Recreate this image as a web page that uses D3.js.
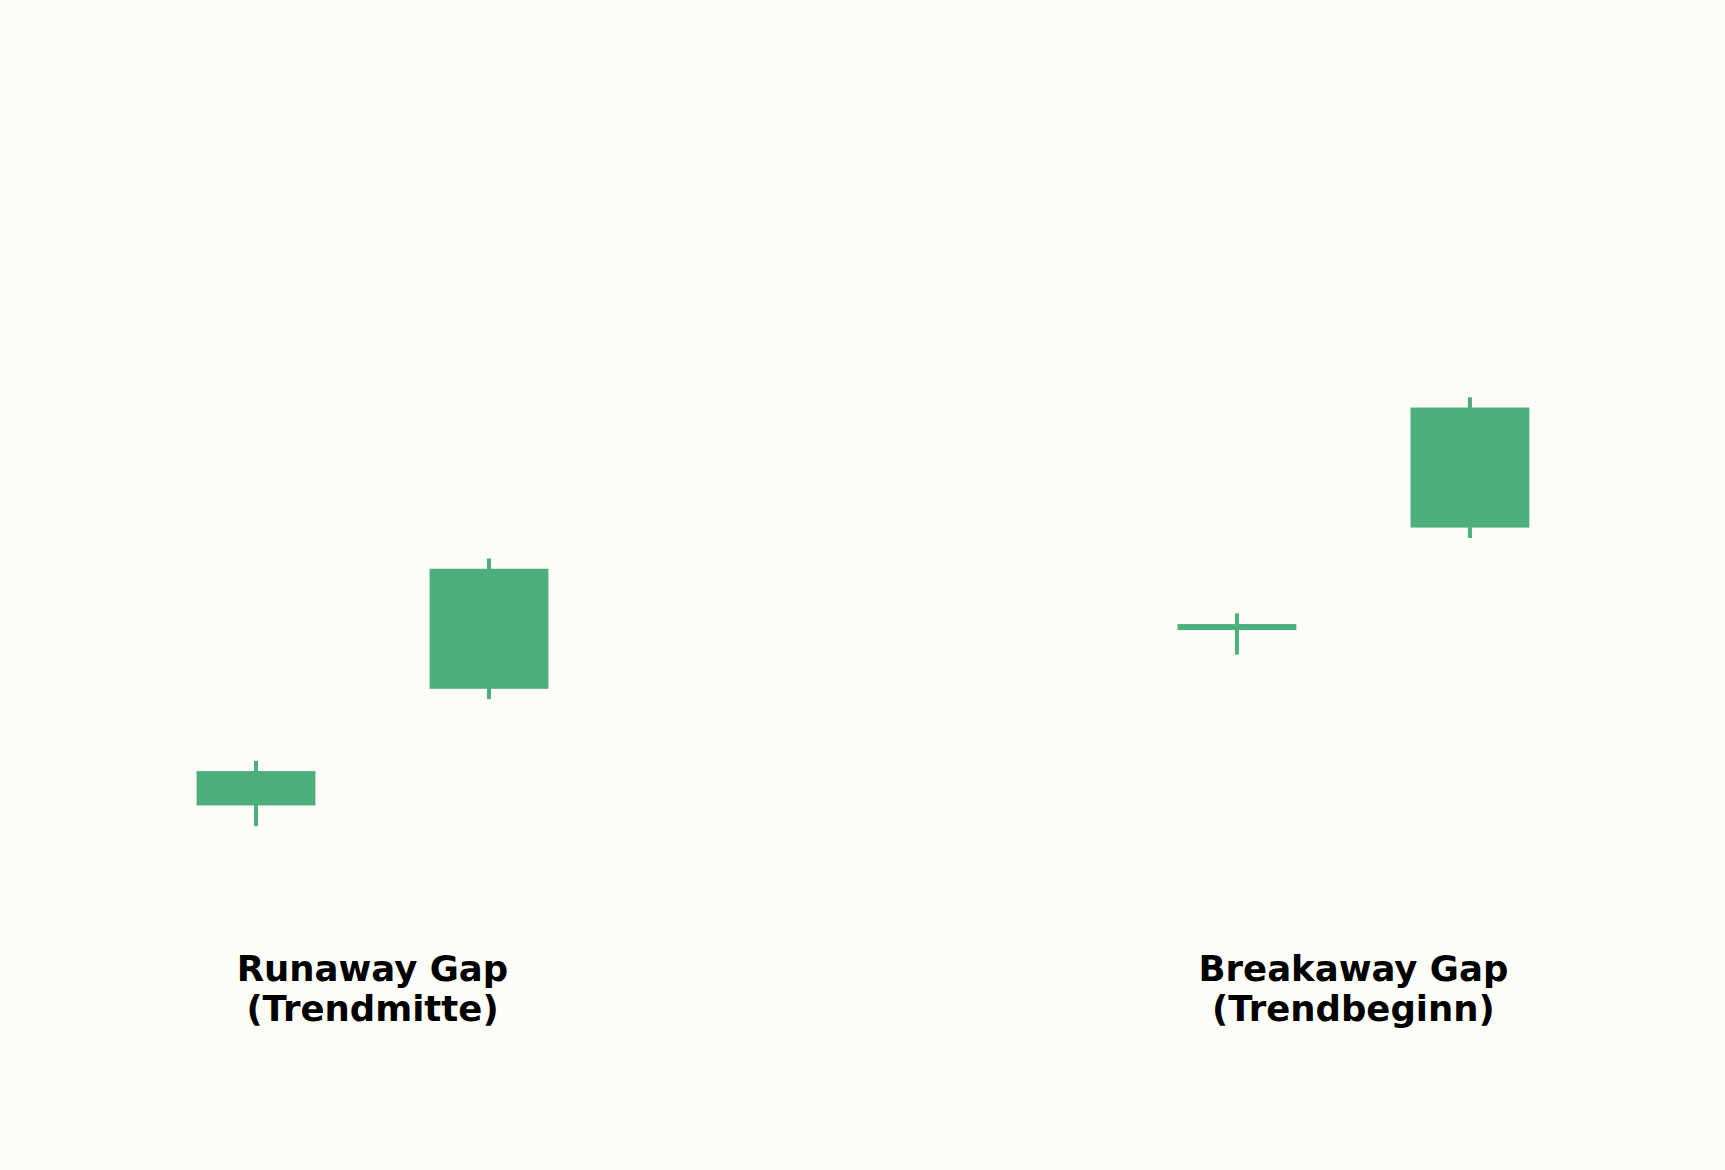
<!DOCTYPE html>
<html>
<head>
<meta charset="utf-8">
<script src="https://cdn.jsdelivr.net/npm/d3@7"></script>
<style>
	html, body { margin: 0; padding: 0; background: #fdfdf8; }
	#chart { width: 1725px; height: 1170px; }
</style>
</head>
<body>
<div id="chart"></div>
<script>
// candle positions (x in bar units) and OHLC values
const positions = [0, 1, 4.21, 5.21];
const opens = [100.6, 104.0, 105.8, 108.7];
const highs = [101.9, 107.8, 106.2, 112.5];
const lows = [100.0, 103.7, 105.0, 108.4];
const closes = [101.6, 107.5, 105.8, 112.2];

// pattern labels, placed between each pair of candles
const labelPositions = [0.5, 4.71];
const labelLines = [
	['Runaway Gap', '(Trendmitte)'],
	['Breakaway Gap', '(Trendbeginn)'],
];

const width = 1725;
const height = 1170;
const color = '#4daf7c';
const bodyWidth = 0.51;

const candles = positions.map((x, i) => ({
	x,
	open: opens[i],
	high: highs[i],
	low: lows[i],
	close: closes[i],
}));

const svg = d3
	.select('#chart')
	.append('svg')
	.attr('width', width)
	.attr('height', height)
	.attr('viewBox', `0 0 ${width} ${height}`);

svg.append('rect')
	.attr('width', width)
	.attr('height', height)
	.attr('fill', '#fdfdf8');

const xScale = d3.scaleLinear().domain([0, 1]).range([256, 489]);
const yScale = d3.scaleLinear().domain([100, 110]).range([826, 483]);

const bw = xScale(bodyWidth) - xScale(0);

const g = svg.append('g');

// wicks
g.selectAll('line.wick')
	.data(candles)
	.enter()
	.append('line')
	.attr('class', 'wick')
	.attr('x1', (d) => xScale(d.x))
	.attr('x2', (d) => xScale(d.x))
	.attr('y1', (d) => yScale(d.high))
	.attr('y2', (d) => yScale(d.low))
	.attr('stroke', color)
	.attr('stroke-width', 4);

// bodies (doji get a thin bar)
g.selectAll('rect.body')
	.data(candles)
	.enter()
	.append('rect')
	.attr('class', 'body')
	.attr('x', (d) => xScale(d.x) - bw / 2)
	.attr('width', bw)
	.attr('y', (d) => {
		const top = yScale(Math.max(d.open, d.close));
		const h = Math.abs(yScale(d.open) - yScale(d.close));
		return h < 6 ? top - 3 + h / 2 : top;
	})
	.attr('height', (d) => Math.max(6, Math.abs(yScale(d.open) - yScale(d.close))))
	.attr('fill', color);

// labels
const labels = g.selectAll('text.label')
	.data(labelPositions)
	.enter()
	.append('text')
	.attr('class', 'label')
	.attr('x', (d) => xScale(d))
	.attr('y', 981)
	.attr('text-anchor', 'middle')
	.attr('font-family', 'DejaVu Sans, sans-serif')
	.attr('font-weight', 'bold')
	.attr('font-size', 35.5)
	.attr('fill', '#000');

labels.each(function (d, i) {
	d3.select(this)
		.selectAll('tspan')
		.data(labelLines[i])
		.enter()
		.append('tspan')
		.attr('x', xScale(d))
		.attr('dy', (t, j) => (j === 0 ? 0 : 40))
		.text((t) => t);
});
</script>
</body>
</html>
